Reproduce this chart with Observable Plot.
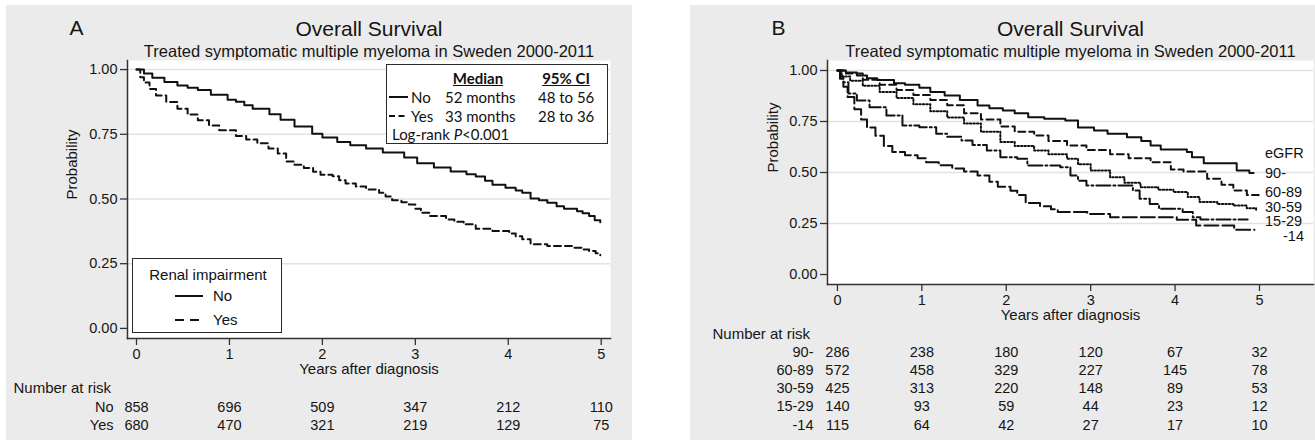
<!DOCTYPE html>
<html><head><meta charset="utf-8">
<script src="https://cdn.jsdelivr.net/npm/d3@7"></script>
<script src="https://cdn.jsdelivr.net/npm/@observablehq/plot@0.6"></script>
<style>
body{margin:0;background:#fff;font-family:"Liberation Sans",Arial,sans-serif;}
#root{position:relative;width:1315px;height:440px;overflow:hidden;background:#fff;}
.panel{position:absolute;}
.ov{position:absolute;color:#111;white-space:nowrap;line-height:18px;height:18px;}
.lab{position:absolute;color:#111;white-space:nowrap;line-height:14px;height:14px;font-size:14.5px;}
.box{position:absolute;background:#fff;border:1.5px solid #2a2a2a;box-sizing:border-box;}
</style></head><body><div id="root"></div>
<script>
// ---------- data ----------
const xTicks = [0, 1, 2, 3, 4, 5];
const yTicks = [0, 0.25, 0.5, 0.75, 1];
const gridTicks = [0.25, 0.5, 0.75, 1];
const riskTimes = [0, 1, 2, 3, 4, 5];

// Panel A: renal impairment No / Yes  [years, survival]
const aNo = [[0,1],[0.08,0.985],[0.17,0.968],[0.3,0.952],[0.44,0.938],[0.55,0.93],[0.66,0.921],[0.8,0.903],[0.98,0.883],[1.07,0.876],[1.16,0.862],[1.25,0.849],[1.43,0.827],[1.55,0.806],[1.7,0.78],[1.89,0.752],[2.0,0.738],[2.16,0.72],[2.3,0.708],[2.47,0.695],[2.65,0.68],[2.88,0.66],[3.02,0.638],[3.2,0.622],[3.38,0.606],[3.55,0.596],[3.65,0.587],[3.75,0.57],[3.83,0.555],[3.97,0.543],[4.08,0.533],[4.15,0.524],[4.24,0.502],[4.33,0.495],[4.42,0.485],[4.52,0.472],[4.6,0.462],[4.74,0.453],[4.8,0.445],[4.87,0.434],[4.93,0.418],[4.99,0.41]];
const aYes = [[0,1],[0.04,0.97],[0.08,0.95],[0.14,0.925],[0.21,0.9],[0.32,0.875],[0.44,0.849],[0.55,0.826],[0.66,0.804],[0.78,0.784],[0.89,0.766],[1.07,0.743],[1.18,0.73],[1.3,0.715],[1.42,0.695],[1.52,0.676],[1.61,0.645],[1.7,0.632],[1.8,0.62],[1.9,0.605],[1.98,0.594],[2.11,0.588],[2.18,0.572],[2.25,0.56],[2.36,0.548],[2.47,0.537],[2.61,0.524],[2.68,0.51],[2.75,0.495],[2.85,0.487],[2.93,0.479],[3.0,0.462],[3.06,0.447],[3.15,0.434],[3.33,0.421],[3.42,0.412],[3.52,0.402],[3.65,0.385],[3.83,0.376],[4.01,0.367],[4.08,0.356],[4.15,0.344],[4.24,0.325],[4.42,0.318],[4.69,0.312],[4.8,0.305],[4.87,0.299],[4.94,0.29],[4.99,0.283]];
const rowsA = ["No", "Yes"];
const riskA = [[858,696,509,347,212,110],[680,470,321,219,129,75]];

// Panel B: eGFR groups
const b90 = [[0,1],[0.1,0.99],[0.23,0.975],[0.35,0.962],[0.47,0.954],[0.67,0.938],[0.8,0.93],[0.97,0.915],[1.1,0.895],[1.27,0.877],[1.45,0.855],[1.66,0.828],[1.8,0.815],[1.96,0.804],[2.1,0.79],[2.26,0.771],[2.45,0.763],[2.7,0.755],[2.85,0.72],[3.04,0.706],[3.2,0.69],[3.43,0.673],[3.6,0.655],[3.71,0.632],[3.83,0.613],[4.14,0.6],[4.2,0.575],[4.34,0.545],[4.73,0.51],[4.88,0.497],[4.93,0.497]];
const b6089 = [[0,1],[0.1,0.985],[0.3,0.955],[0.5,0.93],[0.7,0.905],[0.9,0.88],[1.1,0.855],[1.3,0.83],[1.5,0.79],[1.7,0.76],[1.93,0.725],[2.1,0.7],[2.33,0.681],[2.5,0.655],[2.72,0.632],[2.95,0.61],[3.23,0.59],[3.45,0.57],[3.71,0.55],[3.95,0.515],[4.1,0.505],[4.38,0.469],[4.55,0.44],[4.69,0.412],[4.85,0.39],[4.99,0.371]];
const b3059 = [[0,1],[0.05,0.97],[0.15,0.95],[0.3,0.925],[0.5,0.895],[0.7,0.865],[0.9,0.835],[1.1,0.8],[1.3,0.77],[1.5,0.74],[1.7,0.7],[1.93,0.649],[2.1,0.63],[2.33,0.608],[2.5,0.59],[2.72,0.567],[2.85,0.54],[3.0,0.51],[3.23,0.477],[3.4,0.45],[3.59,0.428],[3.8,0.415],[3.98,0.404],[4.15,0.38],[4.29,0.355],[4.5,0.345],[4.69,0.338],[4.85,0.325],[4.96,0.314]];
const b1529 = [[0,1],[0.03,0.97],[0.07,0.943],[0.13,0.887],[0.23,0.853],[0.38,0.82],[0.58,0.78],[0.77,0.73],[0.97,0.722],[1.17,0.69],[1.3,0.675],[1.47,0.657],[1.6,0.635],[1.77,0.608],[1.93,0.575],[2.13,0.567],[2.25,0.534],[2.64,0.526],[2.76,0.485],[2.85,0.46],[2.95,0.436],[3.5,0.412],[3.58,0.371],[3.7,0.345],[3.81,0.322],[4.09,0.306],[4.21,0.281],[4.3,0.27],[4.86,0.27]];
const b14 = [[0,1],[0.03,0.96],[0.07,0.92],[0.12,0.87],[0.2,0.81],[0.28,0.76],[0.35,0.72],[0.45,0.68],[0.55,0.63],[0.65,0.6],[0.8,0.585],[0.95,0.57],[1.05,0.55],[1.2,0.535],[1.36,0.52],[1.5,0.505],[1.66,0.485],[1.8,0.455],[1.9,0.43],[2.05,0.41],[2.13,0.39],[2.23,0.35],[2.4,0.335],[2.53,0.32],[2.61,0.306],[2.96,0.297],[3.23,0.281],[4.02,0.268],[4.25,0.24],[4.7,0.219],[4.94,0.219]];
const rowsB = ["90-", "60-89", "30-59", "15-29", "-14"];
const riskB = [[286,238,180,120,67,32],[572,458,329,227,145,78],[425,313,220,148,89,53],[140,93,59,44,23,12],[115,64,42,27,17,10]];
const labelsB = ["eGFR", "90-", "60-89", "30-59", "15-29", "-14"];

// ---------- helpers ----------
const TXT = "#151515", AX = "#333";
const toRows = arr => arr.map(([t, s]) => ({t, s}));

function riskMarks(labels, counts, dy0, step, dxLabel) {
  const m = [];
  labels.forEach((lab, i) => {
    const dy = dy0 + i * step;
    m.push(Plot.text([lab], {text: d => d, frameAnchor: "bottom-left", dx: dxLabel, dy, textAnchor: "end", fontSize: 14.5, fill: TXT}));
    m.push(Plot.text(counts[i].map((c, j) => ({t: riskTimes[j], c})), {x: "t", text: "c", frameAnchor: "bottom", dy, fontSize: 14.5, fill: TXT}));
  });
  return m;
}

function common(o) {
  return [
    Plot.frame({fill: "white", stroke: null}),
    Plot.ruleY(gridTicks, {y: d => d, stroke: "#e2e2e2", strokeWidth: 1.5}),
    Plot.axisY({ticks: yTicks, tickFormat: d3.format(".2f"), tickSize: 7, tickPadding: 3, fontSize: 14.5, color: AX, fill: TXT, strokeWidth: 1.3, label: null}),
    Plot.axisX({ticks: xTicks, tickFormat: d3.format("d"), tickSize: 7, tickPadding: 3, fontSize: 14.5, color: AX, fill: TXT, strokeWidth: 1.3, label: null}),
    Plot.frame({anchor: "left", stroke: AX, strokeWidth: 1.5}),
    Plot.frame({anchor: "bottom", stroke: AX, strokeWidth: 1.5}),
    Plot.text(["Overall Survival"], {text: d => d, frameAnchor: "top", dy: -39, fontSize: 21, fill: TXT}),
    Plot.text(["Treated symptomatic multiple myeloma in Sweden 2000-2011"], {text: d => d, frameAnchor: "top", dy: -15, fontSize: 16.5, fill: TXT}),
    Plot.text([o.letter], {text: d => d, frameAnchor: "top-left", dx: o.letterDx, dy: -40, fontSize: 21, fill: TXT}),
    Plot.text(["Probability"], {text: d => d, frameAnchor: "left", dx: o.probDx, rotate: -90, fontSize: 15, fill: TXT}),
    Plot.text(["Years after diagnosis"], {text: d => d, frameAnchor: "bottom", dy: 35, fontSize: 15, fill: TXT}),
    Plot.text(["Number at risk"], {text: d => d, frameAnchor: "bottom-left", dx: o.narDx, dy: 54, textAnchor: "start", fontSize: 15, fill: TXT})
  ];
}

const root = document.getElementById("root");
function place(el, left, top) {
  const d = document.createElement("div");
  d.className = "panel";
  d.style.left = left + "px"; d.style.top = top + "px";
  d.appendChild(el);
  root.appendChild(d);
}
function addText(parent, text, x, y, opts = {}) {
  const s = document.createElement("div");
  s.className = opts.cls || "ov";
  s.innerHTML = text;
  const h = opts.cls ? 14 : 18;
  s.style.top = (y - h / 2) + "px";
  if (!opts.cls) s.style.fontSize = (opts.size || 15) + "px";
  if (opts.font) s.style.fontFamily = opts.font;
  if (opts.weight) s.style.fontWeight = opts.weight;
  if (opts.underline) s.style.textDecoration = "underline";
  if (opts.anchor === "middle") { s.style.left = x + "px"; s.style.transform = "translateX(-50%)"; }
  else if (opts.anchor === "end") { s.style.right = (opts.parentWidth - x) + "px"; }
  else s.style.left = x + "px";
  parent.appendChild(s);
  return s;
}
function swatch(parent, x1, x2, y, dash) {
  const ns = "http://www.w3.org/2000/svg";
  const svg = document.createElementNS(ns, "svg");
  svg.setAttribute("width", x2 - x1); svg.setAttribute("height", 4);
  svg.style.position = "absolute"; svg.style.left = x1 + "px"; svg.style.top = (y - 2) + "px";
  const l = document.createElementNS(ns, "line");
  l.setAttribute("x1", 0); l.setAttribute("x2", x2 - x1); l.setAttribute("y1", 2); l.setAttribute("y2", 2);
  l.setAttribute("stroke", "#111"); l.setAttribute("stroke-width", 2);
  if (dash) l.setAttribute("stroke-dasharray", dash);
  svg.appendChild(l);
  parent.appendChild(svg);
}

const style = {background: "#ebebeb", fontFamily: "'Liberation Sans', Arial, sans-serif", overflow: "visible"};
const LW = 2;

// ---------- Panel A ----------
const plotA = Plot.plot({
  width: 626, height: 435,
  marginLeft: 121, marginRight: 22, marginTop: 55, marginBottom: 102,
  style,
  x: {domain: [-0.097, 5.1]},
  y: {domain: [-0.039, 1.035]},
  marks: [
    ...common({letter: "A", letterDx: -58, probDx: -55, narDx: -114}),
    Plot.line(toRows(aNo), {x: "t", y: "s", curve: "step-after", stroke: "#111", strokeWidth: LW}),
    Plot.line(toRows(aYes), {x: "t", y: "s", curve: "step-after", stroke: "#111", strokeWidth: LW, strokeDasharray: "7,4"}),
    ...riskMarks(rowsA, riskA, 73, 18, -14)
  ]
});
place(plotA, 6, 5);

// ---------- Panel B ----------
const plotB = Plot.plot({
  width: 625, height: 435,
  marginLeft: 137, marginRight: 2, marginTop: 55, marginBottom: 156,
  style,
  x: {domain: [-0.118, 5.64]},
  y: {domain: [-0.049, 1.049]},
  marks: [
    ...common({letter: "B", letterDx: -56, probDx: -54, narDx: -115}),
    Plot.line(toRows(b90), {x: "t", y: "s", curve: "step-after", stroke: "#111", strokeWidth: LW}),
    Plot.line(toRows(b6089), {x: "t", y: "s", curve: "step-after", stroke: "#111", strokeWidth: LW, strokeDasharray: "7,4"}),
    Plot.line(toRows(b3059), {x: "t", y: "s", curve: "step-after", stroke: "#111", strokeWidth: LW, strokeDasharray: "1.5,2"}),
    Plot.line(toRows(b1529), {x: "t", y: "s", curve: "step-after", stroke: "#111", strokeWidth: LW, strokeDasharray: "14,3,2,3"}),
    Plot.line(toRows(b14), {x: "t", y: "s", curve: "step-after", stroke: "#111", strokeWidth: LW, strokeDasharray: "14,4"}),
    ...riskMarks(rowsB, riskB, 72, 18.25, -14)
  ]
});
place(plotB, 690, 5);

// ---------- Overlays ----------
// Panel A median box
const boxM = document.createElement("div");
boxM.className = "box";
Object.assign(boxM.style, {left: "386px", top: "64px", width: "222px", height: "80px"});
root.appendChild(boxM);
const cal = "Lato, 'Open Sans', sans-serif";
addText(boxM, "Median", 91, 13, {font: cal, weight: 700, underline: true, anchor: "middle"});
addText(boxM, "95% CI", 179, 13, {font: cal, weight: 700, underline: true, anchor: "middle"});
swatch(boxM, 2, 21, 32);
addText(boxM, "No", 24, 32, {font: cal});
addText(boxM, "52 months", 58, 32, {font: cal});
addText(boxM, "48 to 56", 151, 32, {font: cal});
swatch(boxM, 2, 21, 51, "6,3.5");
addText(boxM, "Yes", 24, 51, {font: cal});
addText(boxM, "33 months", 58, 51, {font: cal});
addText(boxM, "28 to 36", 151, 51, {font: cal});
addText(boxM, "Log-rank <i>P</i>&lt;0.001", 5, 69, {font: cal});

// Panel A renal impairment legend
const boxL = document.createElement("div");
boxL.className = "box";
Object.assign(boxL.style, {left: "132px", top: "258px", width: "150px", height: "75px"});
root.appendChild(boxL);
addText(boxL, "Renal impairment", 75, 16, {anchor: "middle"});
swatch(boxL, 42, 70, 37);
addText(boxL, "No", 80, 37);
swatch(boxL, 42, 70, 61, "9,6");
addText(boxL, "Yes", 80, 61);

// Panel B curve labels
const labPos = [[1265,153,"start"],[1265,173,"start"],[1265,192,"start"],[1265,207,"start"],[1265,221,"start"],[1304,236,"end"]];
labelsB.forEach((lab, i) => {
  const [x, y, a] = labPos[i];
  addText(root, lab, x, y, {anchor: a, parentWidth: 1315, cls: "lab"});
});
</script></body></html>
